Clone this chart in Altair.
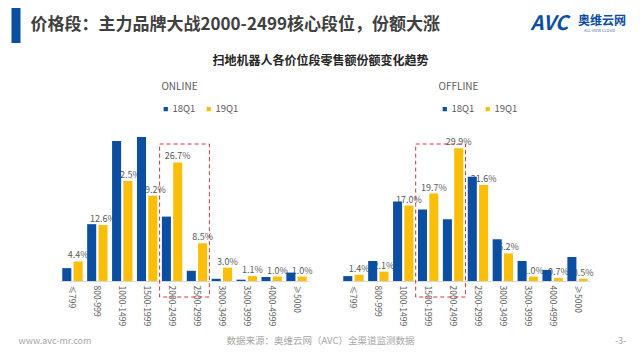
import altair as alt
import pandas as pd

categories = ["≤799", "800-999", "1000-1499", "1500-1999", "2000-2499",
              "2500-2999", "3000-3499", "3500-3999", "4000-4999", "≥5000"]
series = ["18Q1", "19Q1"]
online_18q1 = [2.9, 12.8, 31.5, 32.4, 14.5, 2.3, 0.5, 0.3, 0.9, 1.9]
online_19q1 = [4.4, 12.6, 22.5, 19.2, 26.7, 8.5, 3.0, 1.1, 1.0, 1.0]
offline_18q1 = [1.1, 4.5, 17.9, 16.1, 13.9, 23.5, 9.4, 4.5, 2.5, 5.4]
offline_19q1 = [1.4, 2.1, 17.0, 19.7, 29.9, 21.6, 6.2, 1.0, 0.7, 0.5]
online_box = ["2000-2499", "3000-3499"]
offline_box = ["1500-1999", "2500-2999"]

main_title = "价格段：主力品牌大战2000-2499核心段位，份额大涨"
sub_title = "扫地机器人各价位段零售额份额变化趋势"
footer_url = "www.avc-mr.com"
footer_src = "数据来源：奥维云网（AVC）全渠道监测数据"
page_no = "-3-"

FONT = "Noto Sans CJK SC"
BLUE = "#0b4ea2"
YELLOW = "#fbbf0a"
GREY = "#595959"
W, H = 249, 151


def deco_text(text, x, y, size, color, weight="normal", align="center", style="normal"):
    return alt.Chart(alt.Data(values=[{}])).mark_text(
        text=text, fontSize=size, color=color, fontWeight=weight, align=align,
        baseline="middle", font=FONT, fontStyle=style
    ).encode(x=alt.value(x), y=alt.value(y))


def panel(v18, v19, box, name, name_x, legend_x, extras):
    rows = []
    for s, vals in zip(series, [v18, v19]):
        for c, v in zip(categories, vals):
            rows.append({"cat": c, "series": s, "value": v})
    df = pd.DataFrame(rows)
    xaxis = alt.Axis(title=None, labelAngle=90, labelAlign="left", labelBaseline="middle",
                     ticks=False, labelPadding=4, labelFontSize=8.5, labelColor=GREY,
                     domainColor="#d9d9d9", labelFont=FONT)
    xscale = alt.Scale(domain=categories, paddingInner=0, paddingOuter=0)
    x = alt.X("cat:N", sort=categories, scale=xscale, axis=xaxis)
    xoff = alt.XOffset("series:N", sort=series,
                       scale=alt.Scale(domain=series, paddingInner=0.2, paddingOuter=0.2))
    y = alt.Y("value:Q", scale=alt.Scale(domain=[0, 34]), axis=None)
    base = alt.Chart(df)
    labels = base.transform_filter(alt.datum.series == "19Q1").transform_calculate(
        label="format(datum.value, '.1f') + '%'"
    ).mark_text(dy=-6, fontSize=9, color=GREY, font=FONT).encode(
        x=x, xOffset=xoff, y=y, text="label:N")
    bars = base.mark_bar().encode(
        x=x, xOffset=xoff, y=y,
        color=alt.Color("series:N", scale=alt.Scale(domain=series, range=[BLUE, YELLOW]),
                        legend=alt.Legend(orient="none", legendX=legend_x, legendY=-26,
                                          direction="horizontal", title=None,
                                          symbolType="square", symbolSize=18,
                                          labelFontSize=9.5, labelColor=GREY, labelFont=FONT,
                                          columnPadding=8, padding=0, labelOffset=2,
                                          symbolStrokeWidth=0)))
    boxdf = pd.DataFrame({"start": [box[0]], "end": [box[1]]})
    boxl = alt.Chart(boxdf).mark_rect(filled=False, stroke="#d0353d", strokeDash=[4, 3],
                                      strokeWidth=1).encode(
        x=alt.X("start:N", sort=categories, scale=xscale, axis=xaxis, bandPosition=0),
        x2=alt.X2("end:N", bandPosition=0), y=alt.value(14), y2=alt.value(167))
    title = deco_text(name, name_x, -43, 10, GREY)
    return alt.layer(labels, bars, boxl, title, *extras).properties(width=W, height=H)


anchor = alt.Chart(alt.Data(values=[{}])).mark_rect(color="white").encode(
    x=alt.value(-51.5), x2=alt.value(-51), y=alt.value(-122), y2=alt.value(-121))
bluebar = alt.Chart(alt.Data(values=[{}])).mark_rect(color=BLUE).encode(
    x=alt.value(-48.5), x2=alt.value(-39.5), y=alt.value(-122), y2=alt.value(-87))

extras_online = [
    anchor, bluebar,
    deco_text(main_title, -29.5, -105, 17, "#404040", weight="bold", align="left"),
    deco_text("AVC", 470.5, -106, 20, BLUE, weight="bold", align="left", style="italic"),
    deco_text("奥维云网", 518, -109, 12, BLUE, weight="bold", align="left"),
    deco_text("ALL VIEW CLOUD", 524, -99, 4, "#4a6fa5", align="left"),
    deco_text(sub_title, 260.5, -69, 12, "#262626", weight="bold"),
    deco_text(footer_url, -41.5, 211, 9, "#a6a6a6", align="left"),
    deco_text(footer_src, 260.5, 211, 9.5, "#a6a6a6"),
    deco_text(page_no, 560.5, 211, 9, "#a6a6a6"),
]

online = panel(online_18q1, online_19q1, online_box, "ONLINE", 119.5, 101, extras_online)
offline = panel(offline_18q1, offline_19q1, offline_box, "OFFLINE", 117.5, 99, [])

chart = alt.hconcat(online, offline, spacing=32, bounds="flush").resolve_scale(
    color="independent", x="independent"
).properties(padding=0).configure_view(strokeWidth=0)

chart.save("out.html", embed_options={"renderer": "svg", "actions": False})
